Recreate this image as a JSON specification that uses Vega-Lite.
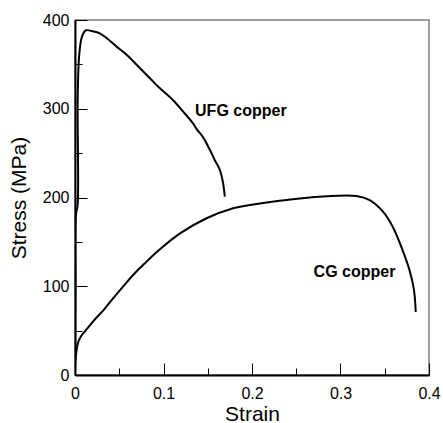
{
  "$schema": "https://vega.github.io/schema/vega-lite/v6.json",
  "width": 354,
  "height": 355,
  "autosize": "none",
  "padding": {"left": 75, "top": 20, "right": 14, "bottom": 48},
  "background": "white",
  "config": {
    "font": "Liberation Sans",
    "view": {"stroke": "#808080", "strokeWidth": 1.5},
    "axis": {
      "grid": false,
      "labelFlush": false,
      "domainColor": "black",
      "domainWidth": 2,
      "tickColor": "black",
      "tickWidth": 1,
      "labelColor": "black",
      "titleColor": "black",
      "labelFont": "Liberation Sans",
      "titleFont": "Liberation Sans",
      "labelFontSize": 16,
      "titleFontSize": 21,
      "titleFontWeight": "normal"
    }
  },
  "datasets": {
    "curves": [
      {"series": "UFG", "i": 0, "strain": 0, "stress": 0},
      {"series": "UFG", "i": 1, "strain": 0.0005, "stress": 100},
      {"series": "UFG", "i": 2, "strain": 0.001, "stress": 180},
      {"series": "UFG", "i": 3, "strain": 0.003, "stress": 192},
      {"series": "UFG", "i": 4, "strain": 0.003, "stress": 310},
      {"series": "UFG", "i": 5, "strain": 0.0045, "stress": 357},
      {"series": "UFG", "i": 6, "strain": 0.007, "stress": 378},
      {"series": "UFG", "i": 7, "strain": 0.010, "stress": 386},
      {"series": "UFG", "i": 8, "strain": 0.0127, "stress": 388.5},
      {"series": "UFG", "i": 9, "strain": 0.021, "stress": 387},
      {"series": "UFG", "i": 10, "strain": 0.028, "stress": 385},
      {"series": "UFG", "i": 11, "strain": 0.036, "stress": 379.4},
      {"series": "UFG", "i": 12, "strain": 0.047, "stress": 370},
      {"series": "UFG", "i": 13, "strain": 0.0586, "stress": 360.6},
      {"series": "UFG", "i": 14, "strain": 0.0735, "stress": 345.6},
      {"series": "UFG", "i": 15, "strain": 0.085, "stress": 334},
      {"series": "UFG", "i": 16, "strain": 0.096, "stress": 323},
      {"series": "UFG", "i": 17, "strain": 0.1106, "stress": 309.9},
      {"series": "UFG", "i": 18, "strain": 0.122, "stress": 297},
      {"series": "UFG", "i": 19, "strain": 0.133, "stress": 284},
      {"series": "UFG", "i": 20, "strain": 0.1375, "stress": 277},
      {"series": "UFG", "i": 21, "strain": 0.1446, "stress": 268},
      {"series": "UFG", "i": 22, "strain": 0.1525, "stress": 253.5},
      {"series": "UFG", "i": 23, "strain": 0.158, "stress": 242},
      {"series": "UFG", "i": 24, "strain": 0.1637, "stress": 231},
      {"series": "UFG", "i": 25, "strain": 0.167, "stress": 218},
      {"series": "UFG", "i": 26, "strain": 0.1693, "stress": 201},
      {"series": "CG", "i": 0, "strain": 0, "stress": 0},
      {"series": "CG", "i": 1, "strain": 0, "stress": 8},
      {"series": "CG", "i": 2, "strain": 0.0015, "stress": 26},
      {"series": "CG", "i": 3, "strain": 0.004, "stress": 38},
      {"series": "CG", "i": 4, "strain": 0.007, "stress": 44},
      {"series": "CG", "i": 5, "strain": 0.0127, "stress": 51},
      {"series": "CG", "i": 6, "strain": 0.021, "stress": 61},
      {"series": "CG", "i": 7, "strain": 0.033, "stress": 74},
      {"series": "CG", "i": 8, "strain": 0.0435, "stress": 87},
      {"series": "CG", "i": 9, "strain": 0.055, "stress": 100.5},
      {"series": "CG", "i": 10, "strain": 0.066, "stress": 113},
      {"series": "CG", "i": 11, "strain": 0.078, "stress": 125},
      {"series": "CG", "i": 12, "strain": 0.094, "stress": 140},
      {"series": "CG", "i": 13, "strain": 0.1187, "stress": 159.6},
      {"series": "CG", "i": 14, "strain": 0.1487, "stress": 176.6},
      {"series": "CG", "i": 15, "strain": 0.1787, "stress": 187.8},
      {"series": "CG", "i": 16, "strain": 0.198, "stress": 191.5},
      {"series": "CG", "i": 17, "strain": 0.231, "stress": 196.4},
      {"series": "CG", "i": 18, "strain": 0.26, "stress": 199.5},
      {"series": "CG", "i": 19, "strain": 0.284, "stress": 201.5},
      {"series": "CG", "i": 20, "strain": 0.318, "stress": 201.7},
      {"series": "CG", "i": 21, "strain": 0.333, "stress": 197},
      {"series": "CG", "i": 22, "strain": 0.348, "stress": 184},
      {"series": "CG", "i": 23, "strain": 0.359, "stress": 167},
      {"series": "CG", "i": 24, "strain": 0.370, "stress": 141},
      {"series": "CG", "i": 25, "strain": 0.378, "stress": 118},
      {"series": "CG", "i": 26, "strain": 0.383, "stress": 96},
      {"series": "CG", "i": 27, "strain": 0.385, "stress": 71}
    ],
    "labels": [
      {"label": "UFG copper", "strain": 0.1874, "stress": 297.5},
      {"label": "CG copper", "strain": 0.3158, "stress": 116}
    ]
  },
  "layer": [
    {
      "data": {"name": "curves"},
      "mark": {"type": "line", "color": "black", "strokeWidth": 2, "interpolate": "catmull-rom", "strokeJoin": "round", "clip": true},
      "encoding": {
        "x": {
          "field": "strain", "type": "quantitative",
          "scale": {"domain": [0, 0.4], "nice": false, "zero": false},
          "axis": {
            "title": "Strain",
            "values": [0, 0.05, 0.1, 0.15, 0.2, 0.25, 0.3, 0.35, 0.4],
            "labelExpr": "abs(datum.value*10 - round(datum.value*10)) < 1e-6 ? (datum.value == 0 ? '0' : format(datum.value, '.1f')) : ''",
            "tickSize": {"condition": {"test": "abs(datum.value*10 - round(datum.value*10)) < 1e-6", "value": -12}, "value": -7},
            "labelPadding": 22,
            "titlePadding": 2
          }
        },
        "y": {
          "field": "stress", "type": "quantitative",
          "scale": {"domain": [0, 400], "nice": false, "zero": false},
          "axis": {
            "title": "Stress (MPa)",
            "values": [0, 50, 100, 150, 200, 250, 300, 350, 400],
            "labelExpr": "datum.value % 100 == 0 ? datum.label : ''",
            "tickSize": {"condition": {"test": "datum.value % 100 == 0", "value": -12}, "value": -7},
            "labelPadding": 18,
            "titlePadding": 13
          }
        },
        "detail": {"field": "series"},
        "order": {"field": "i", "type": "quantitative"}
      }
    },
    {
      "data": {"name": "labels"},
      "mark": {"type": "text", "font": "Liberation Sans", "fontWeight": "bold", "fontSize": 16, "color": "black", "align": "center", "baseline": "middle"},
      "encoding": {
        "x": {"field": "strain", "type": "quantitative"},
        "y": {"field": "stress", "type": "quantitative"},
        "text": {"field": "label"}
      }
    }
  ]
}
